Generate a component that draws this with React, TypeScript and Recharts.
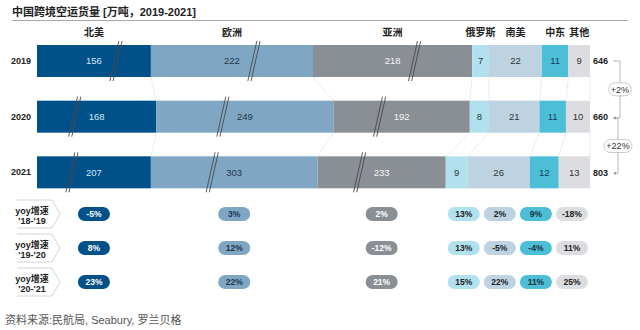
import React from "react";
import { Bar, BarChart, XAxis, YAxis } from "recharts";

const years = ["2019", "2020", "2021"];
const regions = ["北美", "欧洲", "亚洲", "俄罗斯", "南美", "中东", "其他"];

// 万吨
const northAmerica = [156, 168, 207];
const europe = [222, 249, 303];
const asia = [218, 192, 233];
const russia = [7, 8, 9];
const southAmerica = [22, 21, 26];
const middleEast = [11, 11, 12];
const others = [9, 10, 13];
const totals = [646, 660, 803];
const totalGrowth = ["+2%", "+22%"];

const yoyLabel = "yoy增速";
const yoyPeriods = ["'18-'19", "'19-'20", "'20-'21"];
const yoyNorthAmerica = ["-5%", "8%", "23%"];
const yoyEurope = ["3%", "12%", "22%"];
const yoyAsia = ["2%", "-12%", "21%"];
const yoyRussia = ["13%", "13%", "15%"];
const yoySouthAmerica = ["2%", "-5%", "22%"];
const yoyMiddleEast = ["9%", "-4%", "11%"];
const yoyOthers = ["-18%", "11%", "25%"];

const FONT = "'Liberation Sans', Arial, 'Noto Sans CJK SC', sans-serif";

const SERIES = [
  { key: "na", values: northAmerica, yoy: yoyNorthAmerica, fill: "#00518a", text: "#cfe5f7", pillText: "#ffffff", broken: true },
  { key: "eu", values: europe, yoy: yoyEurope, fill: "#7fa7c4", text: "#24364a", pillText: "#1d3550", broken: true },
  { key: "as", values: asia, yoy: yoyAsia, fill: "#8a8f96", text: "#f4f4f4", pillText: "#ffffff", broken: true },
  { key: "ru", values: russia, yoy: yoyRussia, fill: "#b1e1ee", text: "#333333", pillText: "#222222", broken: false },
  { key: "sa", values: southAmerica, yoy: yoySouthAmerica, fill: "#bdd3e1", text: "#333333", pillText: "#222222", broken: false },
  { key: "me", values: middleEast, yoy: yoyMiddleEast, fill: "#4cbfd6", text: "#163d5c", pillText: "#1a2f40", broken: false },
  { key: "ot", values: others, yoy: yoyOthers, fill: "#dcdde0", text: "#333333", pillText: "#222222", broken: false },
];

// broken axis: the three big regions are compressed so every bar fits the same length
const AXIS_MAX = 230;

const rows = years.map((year, i) => {
  const small = SERIES.filter((s) => !s.broken).reduce((a, s) => a + s.values[i], 0);
  const big = SERIES.filter((s) => s.broken).reduce((a, s) => a + s.values[i], 0);
  const k = (AXIS_MAX - small) / big;
  const row: any = { year };
  SERIES.forEach((s) => {
    row[s.key] = s.broken ? s.values[i] * k : s.values[i];
    row[s.key + "_raw"] = s.values[i];
  });
  return row;
});

const cumEnd = (i: number, j: number) =>
  SERIES.slice(0, j + 1).reduce((a, s) => a + rows[i][s.key], 0);

// pill columns: big regions follow the latest bar, small regions share the rest equally
const latest = rows[rows.length - 1];
const smallSeries = SERIES.filter((s) => !s.broken);
const smallSlot = smallSeries.reduce((a, s) => a + latest[s.key], 0) / smallSeries.length;

const pillRows = yoyPeriods.map((period, p) => {
  const row: any = { period };
  SERIES.forEach((s) => {
    row[s.key] = s.broken ? latest[s.key] : smallSlot;
    row[s.key + "_yoy"] = s.yoy[p];
  });
  return row;
});

const W = 640;
const H1 = 200;
const M1 = { top: 33, right: 50, left: 7, bottom: 0 };
const BAND = (H1 - M1.top - M1.bottom) / years.length;

function Segment(props: any) {
  const { x, y, width, height, index, payload, seriesIdx } = props;
  const s = SERIES[seriesIdx];
  const cx = x + width / 2;
  const cy = y + height / 2;
  const ppu = width / payload[s.key];
  const parts: React.ReactNode[] = [];

  if (index < years.length - 1) {
    const nx = x + width + (cumEnd(index + 1, seriesIdx) - cumEnd(index, seriesIdx)) * ppu;
    parts.push(
      <line key="c" x1={x + width} y1={y + height} x2={nx} y2={y + BAND}
        stroke="#c4c4c4" strokeWidth={0.8} strokeDasharray="1 1.5" />
    );
  }

  parts.push(
    <text key="v" x={cx} y={cy} dy="0.36em" textAnchor="middle" fontSize={9.5} fill={s.text}>
      {payload[s.key + "_raw"]}
    </text>
  );

  if (s.broken) {
    const mx = cx + (index === 0 ? 22 : -22);
    [-1.6, 1.6].forEach((o, k) =>
      parts.push(
        <line key={"b" + k} x1={mx - 4.5 + o} y1={y + height + 4} x2={mx + 4.5 + o} y2={y - 4}
          stroke="#4a4a4a" strokeWidth={0.9} />
      )
    );
  }

  if (index === 0) {
    parts.push(
      <text key="h" x={cx} y={y - 13} dy="0.36em" textAnchor="middle" fontSize={10} fontWeight="bold" fill="#222">
        {regions[seriesIdx]}
      </text>
    );
  }

  if (seriesIdx === SERIES.length - 1) {
    const ex = x + width;
    parts.push(
      <text key="t" x={ex + 3} y={cy} dy="0.36em" fontSize={9} fontWeight="bold" fill="#222">
        {totals[index]}
      </text>
    );
    if (index < years.length - 1) {
      const vx = ex + 30 - index * 2;
      const ny = cy + BAND + 1;
      const sy = cy + index * 2;
      const label = totalGrowth[index];
      const pw = label.length * 5.5 + 6;
      const my = (sy + ny) / 2;
      parts.push(
        <g key="g">
          <path d={`M${ex + 23},${sy} H${vx} V${ny} H${ex + 24}`} fill="none" stroke="#9a9a9a" strokeWidth={0.7} />
          <path d={`M${ex + 23},${ny} l3,-1.5 v3 z`} fill="#9a9a9a" />
          <rect x={vx - pw / 2} y={my - 6.5} width={pw} height={13} rx={6.5} fill="#fff" stroke="#b5b5b5" strokeWidth={0.7} />
          <text x={vx} y={my} dy="0.36em" textAnchor="middle" fontSize={9} fill="#333">{label}</text>
        </g>
      );
    }
  }

  return (
    <g>
      <rect x={x} y={y} width={width} height={height} fill={s.fill} />
      {parts}
    </g>
  );
}

function Pill(props: any) {
  const { x, y, width, height, payload, seriesIdx } = props;
  const s = SERIES[seriesIdx];
  const cx = x + width / 2;
  const cy = y + height / 2;
  return (
    <g>
      <rect x={cx - 16} y={cy - 7} width={32} height={14} rx={7} fill={s.fill} />
      <text x={cx} y={cy} dy="0.36em" textAnchor="middle" fontSize={8.5} fontWeight="bold" fill={s.pillText}>
        {payload[s.key + "_yoy"]}
      </text>
    </g>
  );
}

function YearTick(props: any) {
  const { x, y, payload } = props;
  return (
    <text x={x} y={y} dy="0.36em" textAnchor="end" fontSize={9} fontWeight="bold" fill="#222" fontFamily={FONT}>
      {payload.value}
    </text>
  );
}

function PeriodTick(props: any) {
  const { y, payload } = props;
  return (
    <g fontFamily={FONT}>
      <polyline points={`17,${y - 14} 52,${y - 14} 60,${y} 52,${y + 14} 17,${y + 14}`}
        fill="#fff" stroke="#c9c9c9" strokeWidth={0.8} />
      <text x={32} y={y - 0.5} textAnchor="middle" fontSize={9} fontWeight="bold" fill="#222">{yoyLabel}</text>
      <text x={32} y={y + 10} textAnchor="middle" fontSize={9} fontWeight="bold" fill="#222">{payload.value}</text>
    </g>
  );
}

export default function App() {
  return (
    <div style={{ position: "absolute", left: 0, top: 0, width: W, height: 330, background: "#fff", fontFamily: FONT }}>
      <div style={{ position: "absolute", left: 12, top: 5, fontSize: 11, lineHeight: "15px", fontWeight: "bold", color: "#222", whiteSpace: "nowrap" }}>
        中国跨境空运货量 [万吨，2019-2021]
      </div>
      <div style={{ position: "absolute", left: 12, top: 19.5, width: 616, height: 1.5, background: "#a8a8a8" }} />

      <div style={{ position: "absolute", left: 0, top: 0 }}>
        <BarChart layout="vertical" width={W} height={H1} data={rows} margin={M1} barSize={32}>
          <XAxis type="number" domain={[0, AXIS_MAX]} hide />
          <YAxis type="category" dataKey="year" width={30} axisLine={false} tickLine={false}
            tickSize={6} tickMargin={0} tick={<YearTick />} />
          {SERIES.map((s, j) => (
            <Bar key={s.key} dataKey={s.key} stackId="a" fill={s.fill} isAnimationActive={false}
              shape={(p: any) => <Segment {...p} seriesIdx={j} />} />
          ))}
        </BarChart>
      </div>

      <div style={{ position: "absolute", left: 0, top: 197 }}>
        <BarChart layout="vertical" width={W} height={102} data={pillRows}
          margin={{ top: 0, right: 50, left: 7, bottom: 0 }} barSize={14}>
          <XAxis type="number" domain={[0, AXIS_MAX]} hide />
          <YAxis type="category" dataKey="period" width={30} axisLine={false} tickLine={false} tick={<PeriodTick />} />
          {SERIES.map((s, j) => (
            <Bar key={s.key} dataKey={s.key} stackId="p" fill="transparent" isAnimationActive={false}
              shape={(p: any) => <Pill {...p} seriesIdx={j} />} />
          ))}
        </BarChart>
      </div>

      <div style={{ position: "absolute", left: 5, top: 313, fontSize: 11, lineHeight: "14px", color: "#555", whiteSpace: "nowrap" }}>
        资料来源:民航局, Seabury, 罗兰贝格
      </div>
    </div>
  );
}
